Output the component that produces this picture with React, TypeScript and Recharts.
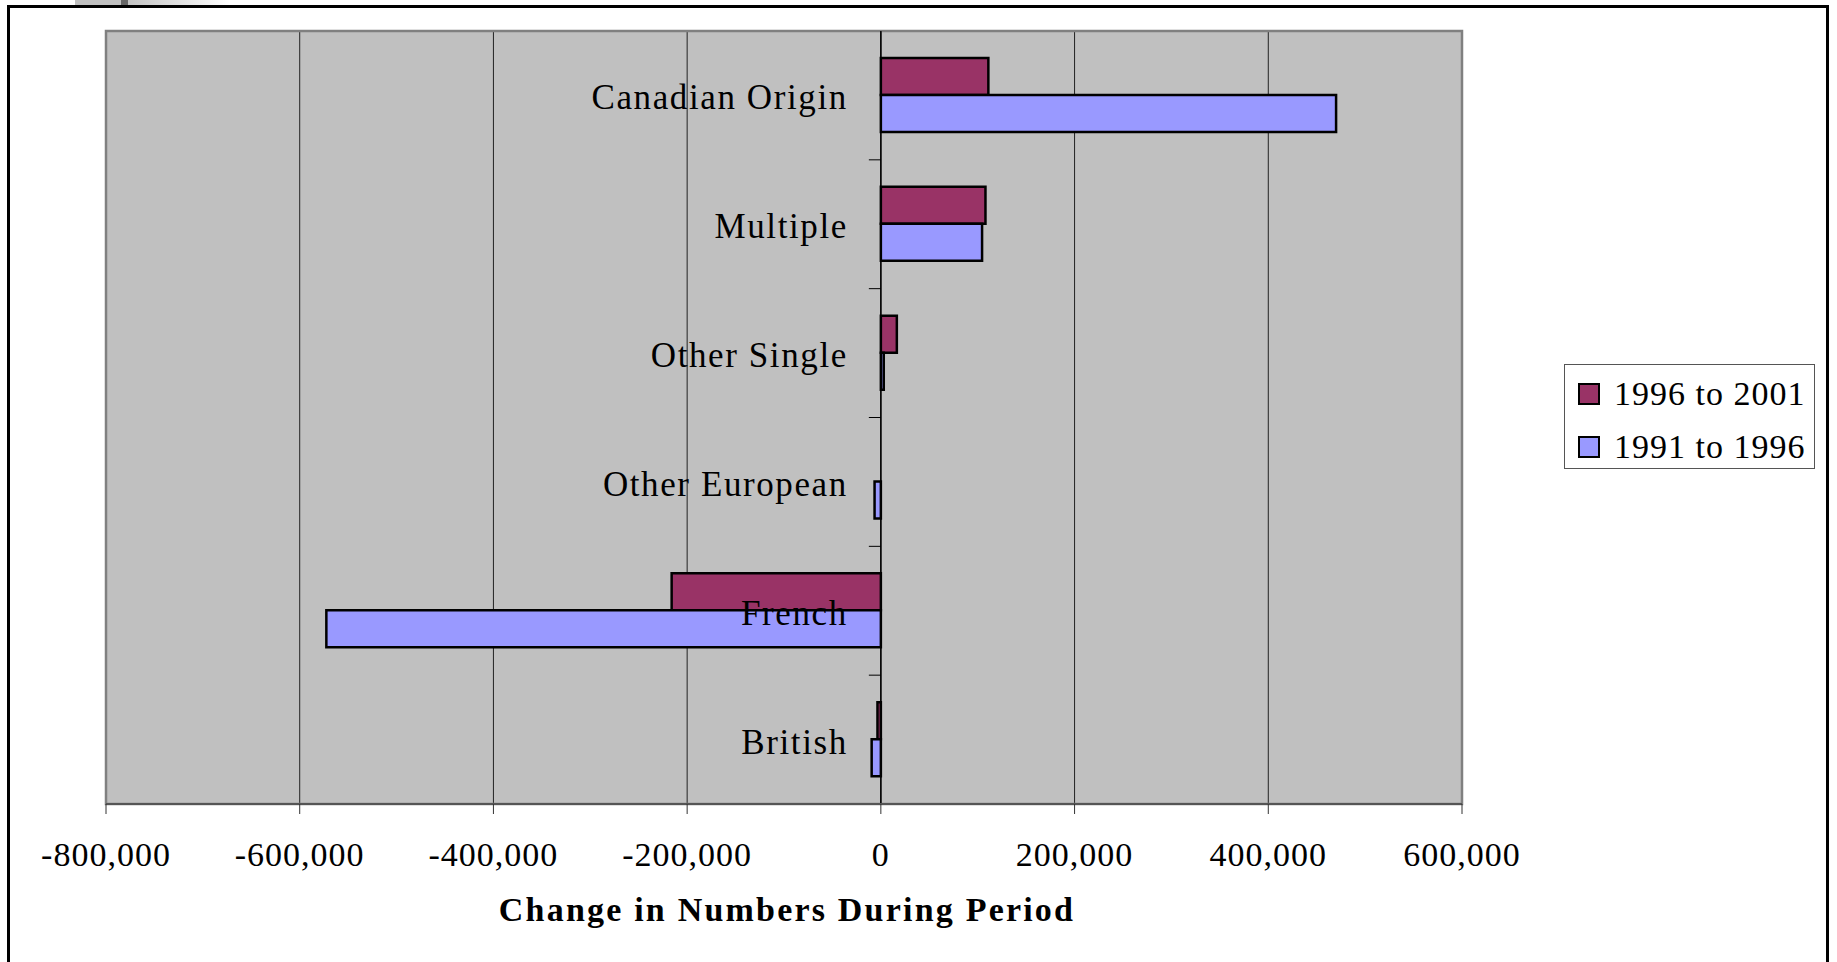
import { Bar, BarChart, CartesianGrid, Label, ReferenceArea, ReferenceLine, XAxis, YAxis } from "recharts";

// Ethnic origin categories, top to bottom as drawn
const categories = ["Canadian Origin", "Multiple", "Other Single", "Other European", "French", "British"];

// Change in numbers for each period
const change1996to2001 = [111000, 108000, 16500, 0, -216000, -3500];
const change1991to1996 = [470000, 104500, 3000, -6500, -572500, -9500];

const seriesNames = ["1996 to 2001", "1991 to 1996"];
const seriesColors = ["#993366", "#9999FF"];

const xTicks = [-800000, -600000, -400000, -200000, 0, 200000, 400000, 600000];
const X_MIN = -800000;
const X_MAX = 600000;

const data = categories.map((name, i) => ({
  name,
  recent: change1996to2001[i],
  earlier: change1991to1996[i],
}));

const CHART_W = 1837;
const CHART_H = 962;
const MARGIN = { top: 31, right: 375, bottom: 0, left: 6 };
const Y_AXIS_W = 100;
const X_AXIS_H = 158;
const PLOT_LEFT = MARGIN.left + Y_AXIS_W;
const PLOT_W = CHART_W - PLOT_LEFT - MARGIN.right;
const PLOT_H = CHART_H - MARGIN.top - MARGIN.bottom - X_AXIS_H;
const BAND = PLOT_H / categories.length;
// pixel position of the value 0, where Excel puts the category axis
const ZERO_X = PLOT_LEFT + ((0 - X_MIN) / (X_MAX - X_MIN)) * PLOT_W;

const FONT = '"Liberation Serif", "Times New Roman", serif';

const CategoryTick = (props: any) => {
  const { y, payload, index } = props;
  return (
    <g>
      <text
        x={ZERO_X - 33}
        y={y + 14}
        textAnchor="end"
        fontFamily={FONT}
        fontSize={35}
        fill="#000"
        style={{ letterSpacing: 1.6 }}
      >
        {payload.value}
      </text>
      {index < categories.length - 1 && (
        <line x1={ZERO_X - 12} x2={ZERO_X} y1={y + BAND / 2} y2={y + BAND / 2} stroke="#000" strokeWidth={1} />
      )}
    </g>
  );
};

const AxisTitle = (props: any) => {
  const { viewBox } = props;
  return (
    <text
      x={viewBox.x + viewBox.width / 2 + 3}
      y={viewBox.y + 117}
      textAnchor="middle"
      fontFamily={FONT}
      fontSize={34}
      fontWeight="bold"
      fill="#000"
      style={{ letterSpacing: 2.2 }}
    >
      Change in Numbers During Period
    </text>
  );
};

export default function App() {
  return (
    <div style={{ position: "absolute", left: 0, top: 0, width: CHART_W, height: CHART_H, overflow: "hidden", background: "#fff" }}>
      {/* leftover tab from the source page */}
      <div
        style={{
          position: "absolute",
          left: 75,
          top: 0,
          width: 155,
          height: 5,
          background: "linear-gradient(to right, #c0c0c0 0%, #c0c0c0 30%, #ffffff 100%)",
        }}
      />
      <div style={{ position: "absolute", left: 121, top: 0, width: 7, height: 5, background: "#666" }} />
      <div
        style={{
          position: "absolute",
          left: 7,
          top: 5,
          width: 1816,
          height: CHART_H,
          border: "3px solid #000",
          borderBottom: "none",
        }}
      />
      <div style={{ position: "absolute", left: 0, top: 0 }}>
        <BarChart
          width={CHART_W}
          height={CHART_H}
          data={data}
          layout="vertical"
          margin={MARGIN}
          barGap={0}
          barSize={37}
        >
          <CartesianGrid horizontal={false} vertical stroke="#222" strokeWidth={1} fill="#C0C0C0" fillOpacity={1} />
          <XAxis
            type="number"
            domain={[X_MIN, X_MAX]}
            ticks={xTicks}
            height={X_AXIS_H}
            interval={0}
            tickFormatter={(v: number) => v.toLocaleString("en-US")}
            tick={{ fontFamily: FONT, fontSize: 34, fill: "#000", style: { letterSpacing: 1 } } as any}
            tickSize={10}
            tickMargin={28}
            tickLine={{ stroke: "#333" }}
            axisLine={{ stroke: "#555", strokeWidth: 2 }}
          >
            <Label content={AxisTitle} />
          </XAxis>
          <ReferenceArea x1={X_MIN} x2={X_MAX} fill="none" fillOpacity={0} stroke="#808080" strokeWidth={2.5} />
          <Bar dataKey="recent" name={seriesNames[0]} fill={seriesColors[0]} stroke="#000" strokeWidth={2.5} isAnimationActive={false} />
          <Bar dataKey="earlier" name={seriesNames[1]} fill={seriesColors[1]} stroke="#000" strokeWidth={2.5} isAnimationActive={false} />
          <ReferenceLine x={0} stroke="#000" strokeWidth={1.5} />
          <YAxis
            type="category"
            dataKey="name"
            width={Y_AXIS_W}
            axisLine={false}
            tickLine={false}
            interval={0}
            tick={CategoryTick}
          />
        </BarChart>
      </div>
      {/* legend */}
      <div
        style={{
          position: "absolute",
          left: 1564,
          top: 364,
          width: 251,
          height: 105,
          border: "1px solid #555",
          background: "#fff",
          boxSizing: "border-box",
          fontFamily: FONT,
          fontSize: 34,
          letterSpacing: 1,
          paddingTop: 9,
        }}
      >
        {seriesNames.map((name, i) => (
          <div key={name} style={{ display: "flex", alignItems: "center", height: 40, marginBottom: i === 0 ? 13 : 0 }}>
            <span
              style={{
                display: "inline-block",
                width: 18,
                height: 18,
                marginLeft: 13,
                marginRight: 14,
                background: seriesColors[i],
                border: "2.5px solid #000",
              }}
            />
            <span>{name}</span>
          </div>
        ))}
      </div>
    </div>
  );
}
